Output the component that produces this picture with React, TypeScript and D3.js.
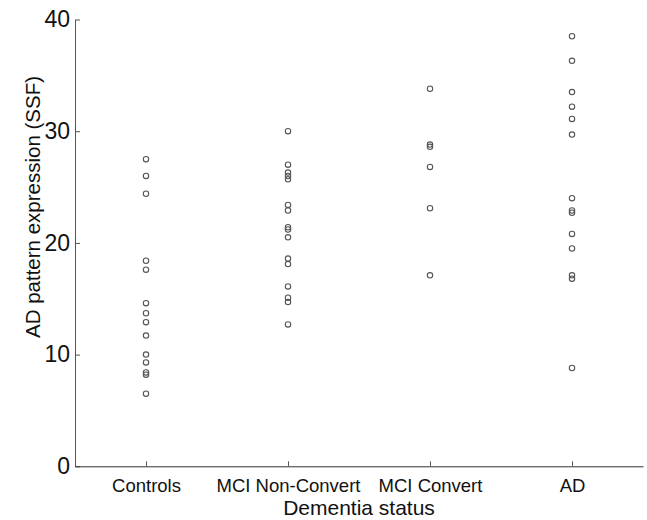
import React, { useRef, useEffect } from 'react';
import * as d3 from 'd3';

const width = 647;
const height = 520;
const margin = { top: 19.5, right: 4, bottom: 53.7, left: 75 };

const categories = ['Controls', 'MCI Non-Convert', 'MCI Convert', 'AD'];
const yTicks = [0, 10, 20, 30, 40];

// values, one array per group
const controls = [27.5, 26.0, 24.4, 18.4, 17.6, 14.6, 13.7, 12.9, 11.7, 10.0, 9.3, 8.4, 8.2, 6.5];
const mciNonConvert = [30.0, 27.0, 26.3, 26.0, 25.7, 23.4, 22.9, 21.4, 21.2, 20.5, 18.6, 18.1, 16.1, 15.1, 14.7, 12.7];
const mciConvert = [33.8, 28.8, 28.6, 26.8, 23.1, 17.1];
const ad = [38.5, 36.3, 33.5, 32.2, 31.1, 29.7, 24.0, 22.9, 22.7, 20.8, 19.5, 17.1, 16.8, 8.8];

const groups = [controls, mciNonConvert, mciConvert, ad];

const font = '"Liberation Sans", Arial, Helvetica, sans-serif';

const Chart = () => {
    const ref = useRef<SVGGElement>(null);

    useEffect(() => {
        if (!ref.current) return;
        const g = d3.select(ref.current);
        g.selectAll('*').remove();

        const x = d3.scalePoint<string>()
            .domain(categories)
            .range([margin.left, width - margin.right])
            .padding(0.5);
        const y = d3.scaleLinear()
            .domain([0, 40])
            .range([height - margin.bottom, margin.top]);

        // y axis, ticks point inward like matlab
        const yAxis = g.append('g')
            .attr('transform', `translate(${margin.left},0)`)
            .call(d3.axisLeft(y).tickValues(yTicks).tickSizeInner(-5).tickSizeOuter(0).tickPadding(5));
        yAxis.select('.domain').attr('stroke', '#555');
        yAxis.selectAll('.tick line').attr('stroke', '#555');
        yAxis.selectAll('.tick text')
            .attr('font-family', font)
            .attr('font-size', 23)
            .attr('fill', '#111');

        const xAxis = g.append('g')
            .attr('transform', `translate(0,${height - margin.bottom})`)
            .call(d3.axisBottom(x).tickSizeInner(-5).tickSizeOuter(0).tickPadding(13));
        xAxis.select('.domain').attr('stroke', '#333');
        xAxis.selectAll('.tick line').attr('stroke', '#555');
        xAxis.selectAll('.tick text')
            .attr('font-family', font)
            .attr('font-size', 18.5)
            .attr('fill', '#111');

        // the points
        groups.forEach((vals, i) => {
            g.append('g')
                .selectAll('circle')
                .data(vals)
                .join('circle')
                .attr('cx', x(categories[i]) as number)
                .attr('cy', d => y(d))
                .attr('r', 2.7)
                .attr('fill', 'none')
                .attr('stroke', '#555')
                .attr('stroke-width', 1.1);
        });

        // axis titles
        g.append('text')
            .attr('x', (margin.left + width - margin.right) / 2)
            .attr('y', 515)
            .attr('text-anchor', 'middle')
            .attr('font-family', font)
            .attr('font-size', 21)
            .attr('fill', '#111')
            .text('Dementia status');

        g.append('text')
            .attr('transform', 'translate(40,207) rotate(-90)')
            .attr('text-anchor', 'middle')
            .attr('font-family', font)
            .attr('font-size', 20.5)
            .attr('fill', '#111')
            .text('AD pattern expression (SSF)');
    }, []);

    return (
        <svg width={width} height={height} style={{ position: 'absolute', left: 0, top: 0, background: '#fff' }}>
            <g ref={ref} />
        </svg>
    );
};

export default function App() {
    return <Chart />;
}
